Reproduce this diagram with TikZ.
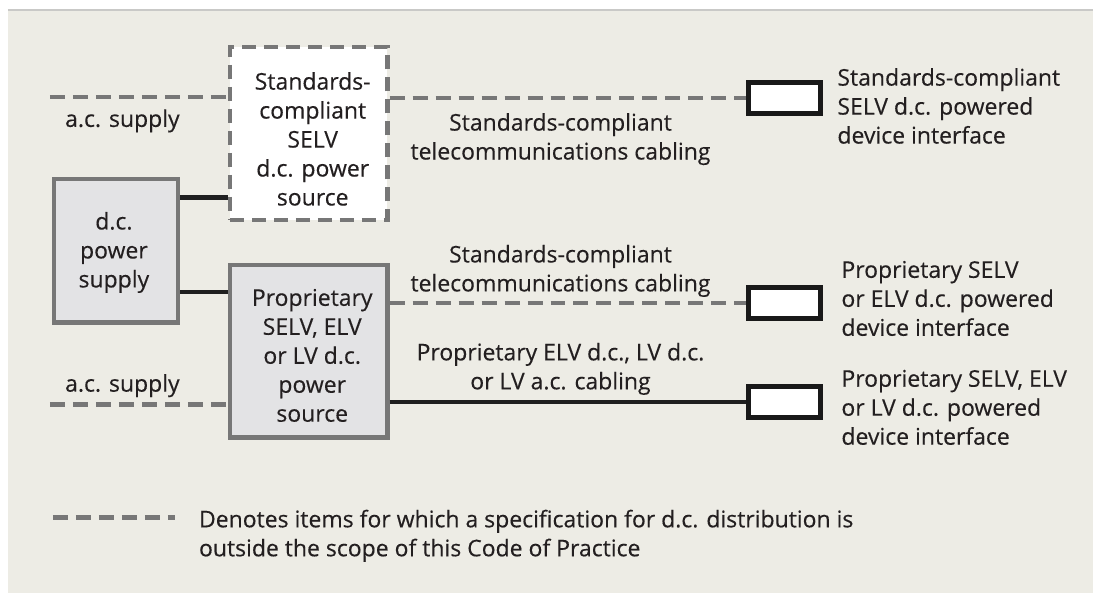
\documentclass[tikz,border=0pt]{standalone}
\usepackage{fontspec}
\setmainfont{Open Sans}[FakeBold=0.3]
\definecolor{bgbeige}{HTML}{EDECE5}
\definecolor{linegrey}{HTML}{777777}
\definecolor{rulegrey}{HTML}{C9C9C7}
\definecolor{boxgrey}{HTML}{E3E3E5}
\definecolor{inkdark}{HTML}{231F20}
\begin{document}
\begin{tikzpicture}[x=1pt,y=-1pt,
    every node/.style={font=\fontsize{23}{29}\selectfont, text=inkdark, inner sep=0pt},
    srcbox/.style={draw=linegrey, line width=4.5pt, fill=boxgrey, minimum width=157.5pt, minimum height=173pt},
    stdbox/.style={srcbox, fill=white, dash pattern=on 14pt off 8pt},
    psubox/.style={srcbox, minimum width=124pt, minimum height=144pt},
    devbox/.style={draw=black!90, line width=4.5pt, fill=white, minimum width=72pt, minimum height=31pt},
    boxtext/.style={align=center, anchor=north},
    sidetext/.style={align=left, anchor=north west},
    dashcable/.style={draw=linegrey, line width=4.5pt, dash pattern=on 15pt off 8pt},
    heavycable/.style={draw=black!88, line width=5.5pt},
    plaincable/.style={draw=black!88, line width=4pt},
    lightcable/.style={draw=black!88, line width=3.5pt}]

\fill[white] (0,0) rectangle (1094,595);
\fill[bgbeige] (8,11) rectangle (1094,594);
\draw[rulegrey, line width=2pt] (8,10) -- (1094,10);
\useasboundingbox (0,0) rectangle (1094,595);

\node[stdbox] (stdsrc) at (309,133.5) {};
\node[psubox] (dcpsu) at (116,251) {};
\node[srcbox] (propsrc) at (309,351.5) {};
\node[devbox] (dev1) at (785,98) {};
\node[devbox] (dev2) at (785,303.5) {};
\node[devbox] (dev3) at (785,402.5) {};

\node[boxtext] (stdtxt) at (313,72) {Standards-\\compliant\\SELV\\d.c. power\\source};
\node[boxtext] (psutxt) at (114,212) {d.c.\\power\\supply};
\node[boxtext] (proptxt) at (312.5,289) {Proprietary\\SELV, ELV\\or LV d.c.\\power\\source};

\coordinate (acup) at (50,97);
\coordinate (acdown) at (50,405);
\coordinate (keyl) at (53,518);
\coordinate (keyr) at (175,518);

\draw[dashcable] (acup) -- (acup -| stdsrc.west);
\draw[dashcable] (stdsrc.east |- dev1.west) -- (dev1.west);
\draw[heavycable] ([yshift=-21pt]dcpsu.north east) -- ([yshift=-21pt]dcpsu.north east -| stdsrc.west);
\draw[plaincable] ([yshift=-41pt]dcpsu.east) -- ([yshift=-41pt]dcpsu.east -| propsrc.west);
\draw[dashcable] (acdown) -- (acdown -| propsrc.west);
\draw[dashcable] (propsrc.east |- dev2.west) -- (dev2.west);
\draw[lightcable] (propsrc.east |- dev3.west) -- (dev3.west);
\draw[dashcable] (keyl) -- (keyr);

\node[anchor=base west] (acuptxt) at (65,127) {a.c. supply};
\node[anchor=base west] (acdowntxt) at (65,392) {a.c. supply};
\node[boxtext] (cab1) at (561,113) {Standards-compliant\\telecommunications cabling};
\node[boxtext] (cab2) at (561,245) {Standards-compliant\\telecommunications cabling};
\node[boxtext] (cab3) at (561,343) {Proprietary ELV d.c., LV d.c.\\or LV a.c. cabling};
\node[sidetext] (dev1txt) at (838,68) {Standards-compliant\\SELV d.c. powered\\device interface};
\node[sidetext] (dev2txt) at (842,261) {Proprietary SELV\\or ELV d.c. powered\\device interface};
\node[sidetext] (dev3txt) at (842,370) {Proprietary SELV, ELV\\or LV d.c. powered\\device interface};
\node[sidetext] (keytxt) at (199,510) {Denotes items for which a specification for d.c. distribution is\\outside the scope of this Code of Practice};
\end{tikzpicture}
\end{document}
